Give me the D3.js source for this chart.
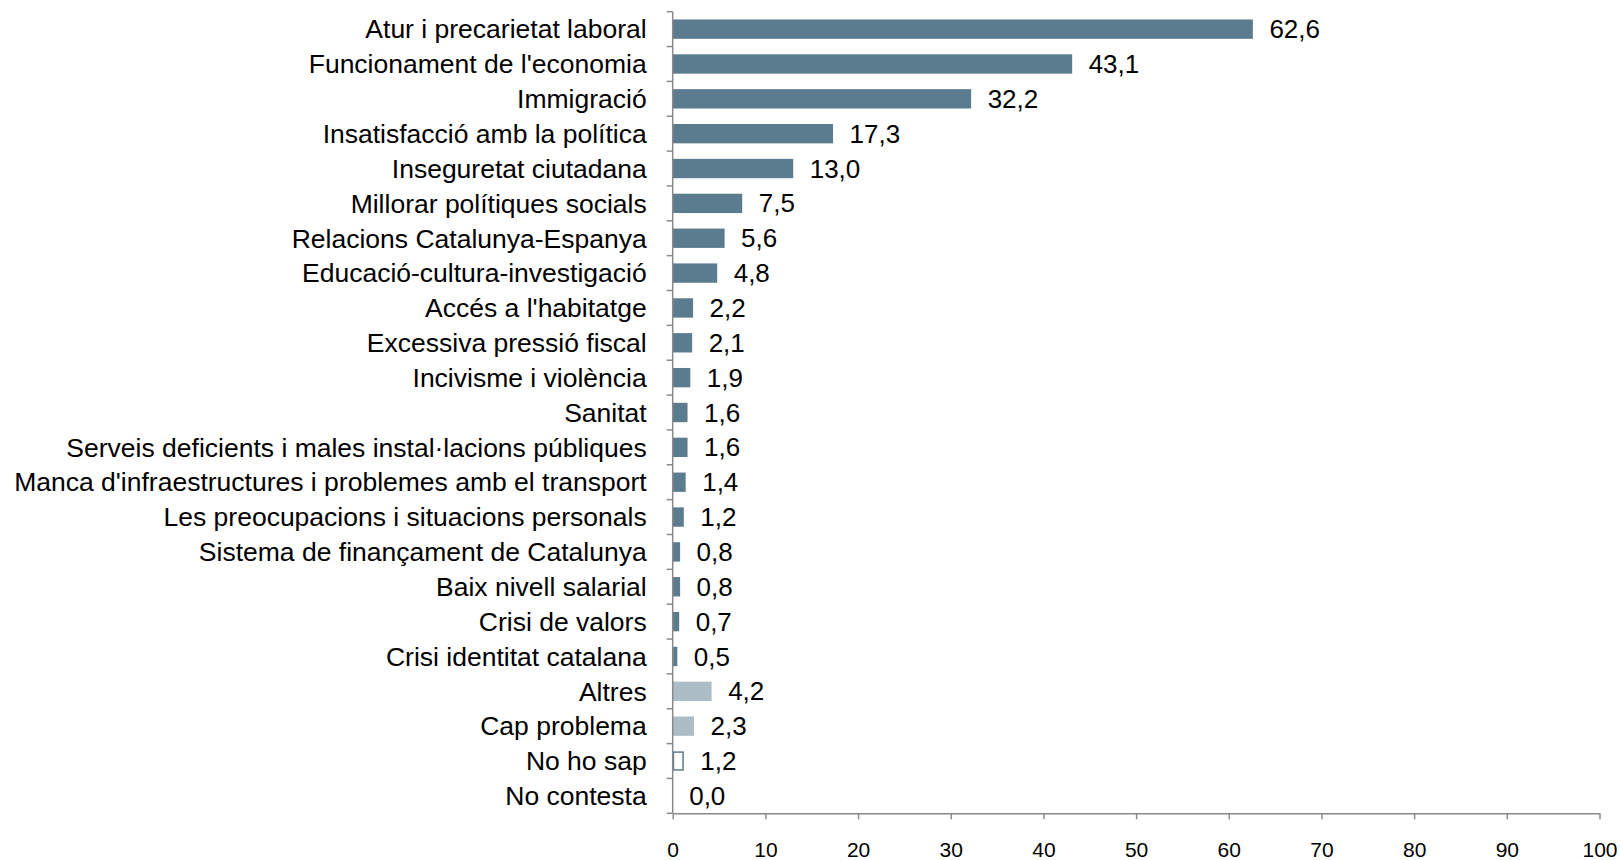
<!DOCTYPE html>
<html>
<head>
<meta charset="utf-8">
<script src="https://cdn.jsdelivr.net/npm/d3@7"></script>
<style>
  html, body { margin: 0; padding: 0; background: #fff; }
  svg { display: block; }
  text { font-family: "Liberation Sans", Arial, sans-serif; fill: #000; }
</style>
</head>
<body>
<svg id="chart" width="1620" height="860"></svg>
<script>
const categories = [
  "Atur i precarietat laboral",
  "Funcionament de l'economia",
  "Immigració",
  "Insatisfacció amb la política",
  "Inseguretat ciutadana",
  "Millorar polítiques socials",
  "Relacions Catalunya-Espanya",
  "Educació-cultura-investigació",
  "Accés a l'habitatge",
  "Excessiva pressió fiscal",
  "Incivisme i violència",
  "Sanitat",
  "Serveis deficients i males instal·lacions públiques",
  "Manca d'infraestructures i problemes amb el transport",
  "Les preocupacions i situacions personals",
  "Sistema de finançament de Catalunya",
  "Baix nivell salarial",
  "Crisi de valors",
  "Crisi identitat catalana",
  "Altres",
  "Cap problema",
  "No ho sap",
  "No contesta"
];
const values = [62.6, 43.1, 32.2, 17.3, 13.0, 7.5, 5.6, 4.8, 2.2, 2.1, 1.9, 1.6, 1.6, 1.4, 1.2, 0.8, 0.8, 0.7, 0.5, 4.2, 2.3, 1.2, 0.0];
const barKinds = ["main","main","main","main","main","main","main","main","main","main","main","main","main","main","main","main","main","main","main","other","other","unknown","unknown"];
const xTicks = [0, 10, 20, 30, 40, 50, 60, 70, 80, 90, 100];

const data = categories.map((c, i) => ({ cat: c, value: values[i], kind: barKinds[i] }));

const svg = d3.select("#chart");
const x0 = 672.7, x1 = 1599.5, yTop = 11.7, yBot = 813.3;
const FS_LABEL = 26.5;
const FS_VALUE = 26;
const FS_TICK = 21;
const axisColor = "#8a8a8a";
const dark = "#5b7b8e";
const light = "#adbdc7";

const x = d3.scaleLinear().domain([0, 100]).range([x0, x1]);
const y = d3.scaleBand().domain(categories).range([yTop, yBot]).paddingInner(0.445).paddingOuter(0.2225);

const fmt = v => v.toFixed(1).replace(".", ",");

// bars
svg.append("g").selectAll("rect").data(data).join("rect")
  .attr("x", d => d.kind === "unknown" ? x(0) + 0.75 : x(0))
  .attr("y", d => d.kind === "unknown" ? y(d.cat) + 0.75 : y(d.cat))
  .attr("width", d => d.kind === "unknown" ? Math.max(0, x(d.value) - x(0) - 1.5) : x(d.value) - x(0))
  .attr("height", d => d.kind === "unknown" ? y.bandwidth() - 1.5 : y.bandwidth())
  .attr("fill", d => d.kind === "main" ? dark : d.kind === "other" ? light : "#fff")
  .attr("stroke", d => d.kind === "unknown" && d.value > 0 ? dark : "none")
  .attr("stroke-width", 1.5);

// value labels
svg.append("g").selectAll("text").data(data).join("text")
  .attr("x", d => x(d.value) + 16.5)
  .attr("y", d => y(d.cat) + y.bandwidth() / 2 + FS_VALUE * 0.35)
  .attr("font-size", FS_VALUE)
  .text(d => fmt(d.value));

// category labels
svg.append("g").selectAll("text").data(data).join("text")
  .attr("x", x0 - 26)
  .attr("y", d => y(d.cat) + y.bandwidth() / 2 + FS_LABEL * 0.35)
  .attr("text-anchor", "end")
  .attr("font-size", FS_LABEL)
  .text(d => d.cat);

// y axis line and boundary ticks
const gap = (y.step() - y.bandwidth()) / 2;
const bounds = categories.map(c => y(c) - gap).concat([y(categories[categories.length - 1]) + y.bandwidth() + gap]);
const yAx = svg.append("g").attr("stroke", axisColor).attr("stroke-width", 1.5);
yAx.append("line").attr("x1", x0).attr("x2", x0).attr("y1", yTop).attr("y2", yBot);
yAx.selectAll("line.t").data(bounds).join("line").attr("class", "t")
  .attr("x1", x0 - 6).attr("x2", x0).attr("y1", d => d).attr("y2", d => d);

// x axis
const xAxis = d3.axisBottom(x).tickValues(xTicks).tickSize(6).tickSizeOuter(0).tickPadding(22.5);
const gx = svg.append("g").attr("transform", `translate(0,${yBot})`).call(xAxis);
gx.select(".domain").attr("stroke", axisColor).attr("stroke-width", 1.5);
gx.selectAll(".tick line").attr("stroke", axisColor).attr("stroke-width", 1.5);
gx.selectAll(".tick text").attr("font-size", FS_TICK).attr("font-family", "Liberation Sans, Arial, sans-serif").attr("fill", "#000");
</script>
</body>
</html>
